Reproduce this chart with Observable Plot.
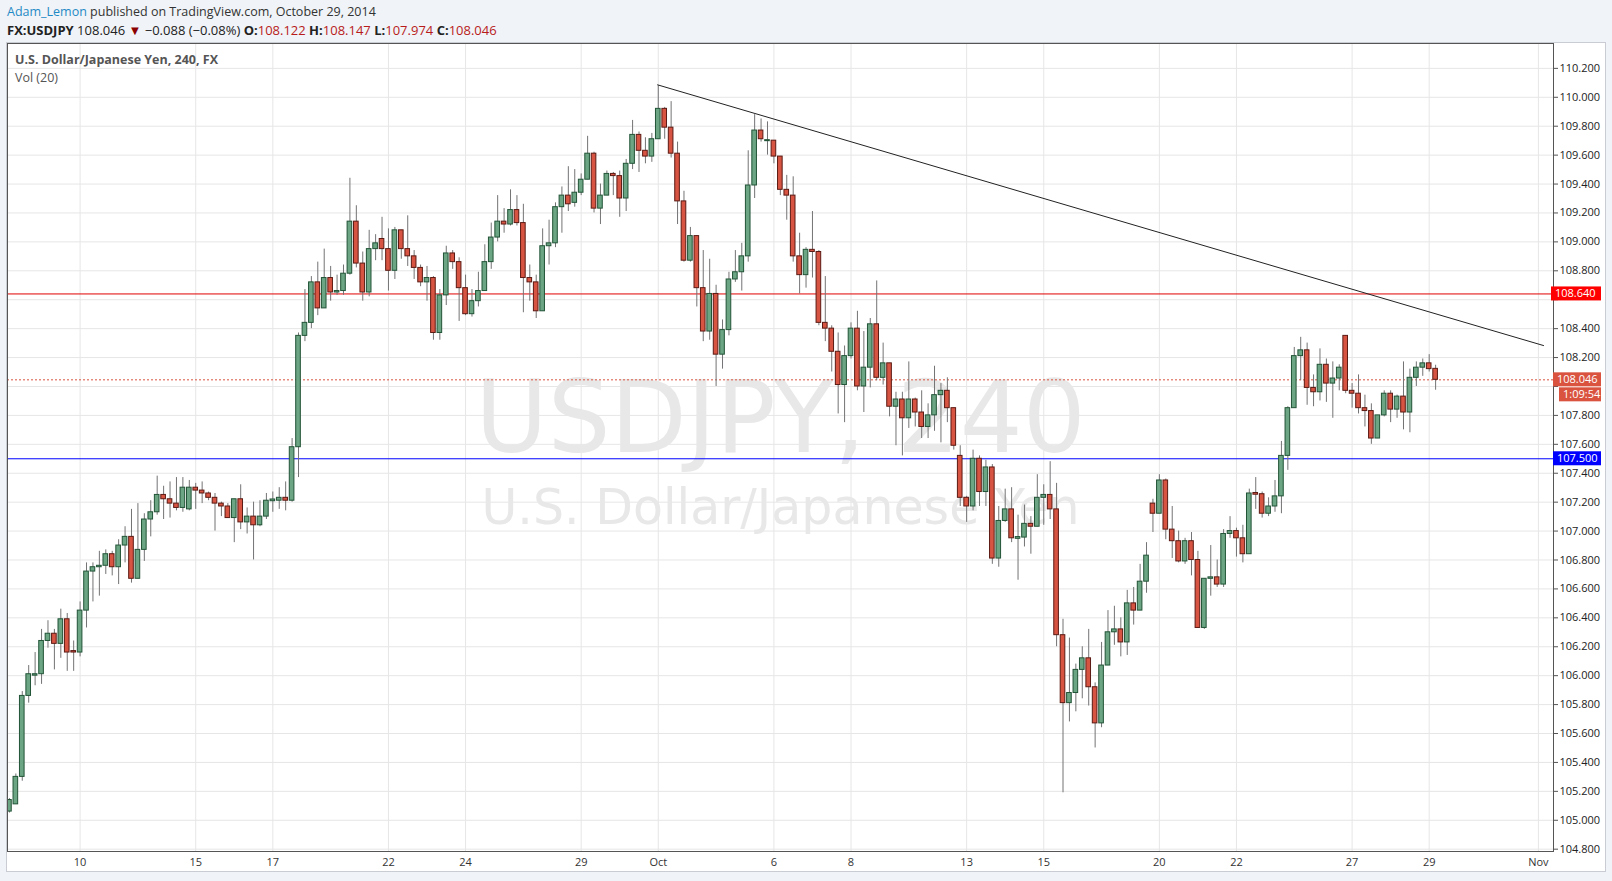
<!DOCTYPE html>
<html>
<head>
<meta charset="utf-8">
<script src="https://cdn.jsdelivr.net/npm/d3@7"></script>
<script src="https://cdn.jsdelivr.net/npm/@observablehq/plot@0.6"></script>
<style>
  html, body { margin: 0; padding: 0; width: 1612px; height: 881px; overflow: hidden; background: #f0f3f7; font-family: "Open Sans", sans-serif; }
  #hdr1 { position: absolute; left: 7px; top: 3px; font-size: 12.5px; color: #333; white-space: nowrap; }
  #hdr1 .user { color: #1f8ac6; }
  #hdr2 { position: absolute; left: 7px; top: 21px; font-size: 13px; color: #222; white-space: nowrap; }
  #hdr2 b { font-weight: 700; }
  #hdr2 .r { color: #b81b1b; }
  #hdr2 .arrow { color: #8b0000; }
  #box { position: absolute; left: 6px; top: 42px; width: 1600px; height: 830px; background: #fff; border: 1px solid #c9cdd3; box-sizing: border-box; }
  #chart { position: absolute; left: 0; top: 42px; }
  #legend1 { position: absolute; left: 15px; top: 51px; font-size: 12.5px; font-weight: 700; color: #555; white-space: nowrap; }
  #legend2 { position: absolute; left: 15px; top: 69px; font-size: 12.5px; color: #555; white-space: nowrap; }
</style>
</head>
<body>
<div id="hdr1"><span class="user">Adam_Lemon</span> published on TradingView.com, October 29, 2014</div>
<div id="hdr2"><b>FX:USDJPY</b> 108.046 <span class="arrow">▼</span> −0.088 (−0.08%) <b>O:</b><span class="r">108.122</span> <b>H:</b><span class="r">108.147</span> <b>L:</b><span class="r">107.974</span> <b>C:</b><span class="r">108.046</span></div>
<div id="box"></div>
<div id="chart"></div>
<div id="legend1">U.S. Dollar/Japanese Yen, 240, FX</div>
<div id="legend2">Vol (20)</div>
<script>
// ---- Data: 4-hour USDJPY candles [open, high, low, close], bar index starts at firstBar ----
const firstBar = 1;
const wkSep08 = [
  [105.06,105.15,105.05,105.14],[105.11,105.32,105.11,105.30],[105.30,105.89,105.27,105.86],[105.86,106.07,105.81,106.01],
  [106.00,106.16,105.93,106.01],[106.01,106.32,105.94,106.24],[106.24,106.38,106.19,106.29],[106.29,106.32,106.04,106.22],
  [106.22,106.46,106.12,106.39],[106.39,106.43,106.03,106.16],[106.17,106.24,106.03,106.16],[106.16,106.51,106.13,106.45],
  [106.45,106.78,106.33,106.72],[106.72,106.78,106.51,106.75],[106.75,106.86,106.55,106.76],[106.76,106.87,106.70,106.84],
  [106.84,106.86,106.69,106.75],[106.75,106.94,106.63,106.90],[106.90,107.03,106.78,106.96],[106.96,107.15,106.64,106.67],
  [106.67,107.19,106.67,106.87],[106.87,107.12,106.79,107.08],[107.08,107.21,106.96,107.13],[107.13,107.38,107.11,107.25],
  [107.25,107.31,107.08,107.22],[107.22,107.34,107.09,107.19],[107.19,107.37,107.14,107.16],[107.16,107.37,107.13,107.30],
  [107.15,107.35,107.14,107.30]
];
const wkSep15 = [
  [107.30,107.33,107.15,107.28],[107.28,107.34,107.19,107.26],[107.26,107.27,107.21,107.23],[107.23,107.26,107.00,107.19],
  [107.19,107.20,107.10,107.17],[107.17,107.19,107.09,107.09],[107.09,107.22,106.92,107.22],[107.22,107.32,107.01,107.06],
  [107.06,107.16,106.98,107.10],[107.10,107.20,106.80,107.04],[107.04,107.21,107.03,107.10],[107.10,107.26,107.08,107.21],
  [107.21,107.27,107.13,107.215],[107.21,107.30,107.15,107.23],[107.23,107.34,107.14,107.21],[107.21,107.64,107.20,107.58],
  [107.58,108.37,107.37,108.35],[108.35,108.67,108.31,108.44],[108.44,108.76,108.40,108.72],[108.72,108.86,108.49,108.54],
  [108.54,108.95,108.54,108.75],[108.75,108.83,108.59,108.65],[108.65,108.77,108.63,108.66],[108.66,108.84,108.63,108.78],
  [108.78,109.44,108.77,109.14],[109.14,109.25,108.82,108.85],[108.85,108.93,108.59,108.65],[108.65,109.08,108.62,108.95],
  [108.95,109.05,108.87,108.99],[109.02,109.17,108.87,108.95]
];
const wkSep22 = [
  [108.95,109.09,108.66,108.80],[108.80,109.10,108.74,109.08],[109.08,109.08,108.88,108.95],[108.95,109.18,108.83,108.90],
  [108.90,108.94,108.74,108.82],[108.82,108.84,108.69,108.72],[108.72,108.83,108.59,108.75],[108.75,108.76,108.32,108.37],
  [108.37,108.67,108.32,108.63],[108.63,108.97,108.56,108.92],[108.92,108.94,108.81,108.86],[108.86,108.89,108.45,108.68],
  [108.68,108.77,108.49,108.50],[108.50,108.67,108.48,108.59],[108.59,108.79,108.55,108.66],[108.66,108.98,108.66,108.86],
  [108.86,109.13,108.81,109.03],[109.03,109.32,109.00,109.14],[109.14,109.23,109.06,109.12],[109.12,109.36,109.11,109.22],
  [109.22,109.32,109.11,109.13],[109.13,109.26,108.51,108.75],[108.75,108.84,108.59,108.72],[108.72,108.77,108.47,108.52],
  [108.52,109.09,108.52,108.97],[108.97,109.15,108.84,108.99],[108.99,109.27,108.96,109.24],[109.24,109.38,109.06,109.32],
  [109.32,109.52,109.21,109.26],[109.27,109.50,109.24,109.34]
];
const wkSep29 = [
  [109.34,109.47,109.32,109.43],[109.43,109.73,109.43,109.61],[109.61,109.62,109.20,109.23],[109.23,109.40,109.12,109.32],
  [109.32,109.49,109.32,109.47],[109.47,109.48,109.32,109.455],[109.455,109.49,109.17,109.30],[109.30,109.57,109.21,109.54],
  [109.54,109.84,109.50,109.74],[109.74,109.76,109.48,109.63],[109.63,109.72,109.54,109.59],[109.59,109.75,109.55,109.71],
  [109.71,110.08,109.71,109.92],[109.92,109.93,109.71,109.79],[109.79,109.97,109.58,109.61],[109.61,109.69,109.12,109.28],
  [109.28,109.35,108.86,108.87],[108.87,109.10,108.86,109.04],[109.04,109.04,108.55,108.68],[108.68,108.94,108.31,108.38],
  [108.38,108.88,108.32,108.64],[108.64,108.70,108.00,108.22],[108.22,108.46,108.12,108.39],[108.39,108.79,108.35,108.74],
  [108.74,108.94,108.72,108.79],[108.79,108.99,108.66,108.90],[108.90,109.63,108.86,109.39],[109.39,109.88,109.30,109.77],
  [109.77,109.85,109.69,109.71],[109.70,109.83,109.60,109.70]
];
const wkOct06 = [
  [109.70,109.70,109.54,109.59],[109.59,109.59,109.32,109.36],[109.36,109.46,109.15,109.32],[109.32,109.45,108.86,108.90],
  [108.90,109.06,108.64,108.77],[108.77,108.96,108.68,108.945],[108.945,109.21,108.75,108.93],[108.93,108.94,108.42,108.44],
  [108.44,108.76,108.31,108.40],[108.40,108.42,108.10,108.24],[108.24,108.37,107.81,108.01],[108.01,108.28,107.75,108.21],
  [108.21,108.44,108.19,108.40],[108.40,108.52,107.97,108.00],[108.00,108.38,107.82,108.13],[108.13,108.47,107.99,108.43],
  [108.43,108.73,108.04,108.06],[108.06,108.30,108.01,108.16],[108.16,108.16,107.79,107.86],[107.86,107.96,107.59,107.91],
  [107.91,107.96,107.52,107.78],[107.78,108.17,107.71,107.91],[107.91,107.92,107.72,107.82],[107.82,107.97,107.64,107.72],
  [107.72,107.88,107.64,107.80],[107.80,108.14,107.69,107.94],[107.94,108.02,107.61,107.97],[107.97,108.06,107.75,107.85],
  [107.85,107.85,107.56,107.59],[107.52,107.59,107.17,107.23]
];
const wkOct13 = [
  [107.23,107.24,107.06,107.17],[107.17,107.56,107.14,107.50],[107.50,107.52,107.17,107.27],[107.27,107.49,107.17,107.44],
  [107.44,107.46,106.77,106.81],[106.81,107.17,106.75,107.07],[107.07,107.29,107.06,107.15],[107.15,107.30,106.92,106.95],
  [106.95,107.11,106.66,106.955],[106.955,107.18,106.89,107.05],[107.05,107.10,106.84,107.03],[107.03,107.39,107.03,107.23],
  [107.23,107.32,107.04,107.25],[107.25,107.48,107.08,107.15],[107.15,107.33,106.20,106.28],[106.28,106.39,105.19,105.81],
  [105.81,106.26,105.68,105.88],[105.88,106.08,105.75,106.04],[106.04,106.20,105.84,106.12],[106.12,106.32,105.79,105.92],
  [105.92,105.95,105.50,105.67],[105.67,106.23,105.64,106.07],[106.07,106.45,106.07,106.30],[106.30,106.48,106.21,106.32],
  [106.32,106.40,106.13,106.23],[106.23,106.59,106.14,106.50],[106.50,106.61,106.35,106.45],[106.45,106.77,106.45,106.65],
  [106.65,106.92,106.57,106.83],[107.19,107.22,106.99,107.12]
];
const wkOct20 = [
  [107.12,107.39,107.12,107.35],[107.35,107.36,106.94,107.01],[107.01,107.17,106.81,106.93],[106.93,107.00,106.78,106.79],
  [106.79,106.95,106.77,106.93],[106.93,106.99,106.69,106.80],[106.80,106.86,106.33,106.33],[106.33,106.67,106.32,106.67],
  [106.67,106.90,106.55,106.68],[106.68,106.80,106.61,106.63],[106.63,107.01,106.61,106.98],[106.98,107.10,106.95,107.00],
  [107.00,107.02,106.82,106.95],[106.95,107.04,106.78,106.84],[106.84,107.29,106.84,107.26],[107.26,107.37,107.15,107.255],
  [107.255,107.27,107.09,107.12],[107.12,107.23,107.10,107.17],[107.17,107.35,107.13,107.24],[107.24,107.62,107.12,107.52],
  [107.52,107.86,107.42,107.85],[107.85,108.27,107.85,108.21],[108.21,108.34,108.04,108.25],[108.25,108.30,107.87,107.99],
  [107.99,108.08,107.86,107.96],[107.96,108.26,107.90,108.15],[108.15,108.19,107.89,108.02],[108.02,108.17,107.78,108.055],
  [108.055,108.15,107.97,108.13],[108.35,108.35,107.95,107.97]
];
const wkOct27 = [
  [107.97,108.02,107.85,107.95],[107.95,108.08,107.81,107.85],[107.85,107.94,107.72,107.83],[107.83,107.88,107.60,107.64],
  [107.64,107.80,107.64,107.80],[107.80,107.97,107.79,107.95],[107.95,107.97,107.75,107.84],[107.84,107.94,107.78,107.93],
  [107.93,108.17,107.70,107.82],[107.82,108.12,107.68,108.06],[108.06,108.17,108.00,108.13],[108.13,108.19,108.07,108.16],
  [108.16,108.22,108.10,108.12],[108.122,108.147,107.974,108.046]
];

// time axis: bar index of each labelled day and its label
const dayTickIndex = [12, 30, 42, 60, 72, 90, 102, 120, 132, 150, 162, 180, 192, 210, 222, 239];
const dayTickLabel = ["10", "15", "17", "22", "24", "29", "Oct", "6", "8", "13", "15", "20", "22", "27", "29", "Nov"];

// price axis ticks
const priceTicks = [104.8, 105.0, 105.2, 105.4, 105.6, 105.8, 106.0, 106.2, 106.4, 106.6, 106.8, 107.0, 107.2,
  107.4, 107.6, 107.8, 108.0, 108.2, 108.4, 108.6, 108.8, 109.0, 109.2, 109.4, 109.6, 109.8, 110.0, 110.2];
const hiddenTicks = [108.0, 108.6];

// drawn levels
const resistanceLevel = 108.640;
const supportLevel = 107.500;
const lastPrice = 108.046;
const countdown = "1:09:54";
const trendLine = [{i: 101.9, p: 110.086}, {i: 239.8, p: 108.283}];
const watermark = ["USDJPY, 240", "U.S. Dollar/Japanese Yen"];

// ---- Build ----
const candles = [...wkSep08, ...wkSep15, ...wkSep22, ...wkSep29, ...wkOct06, ...wkOct13, ...wkOct20, ...wkOct27]
  .map((d, k) => ({i: k + firstBar, o: d[0], h: d[1], l: d[2], c: d[3]}));
const isUp = d => d.c >= d.o;
const minHalf = 0.0035;
const topOf = d => Math.max(d.o, d.c) + (Math.abs(d.o - d.c) < 2 * minHalf ? minHalf : 0);
const botOf = d => Math.min(d.o, d.c) - (Math.abs(d.o - d.c) < 2 * minHalf ? minHalf : 0);

const FONT = '"Open Sans", sans-serif';
const WM_FONT = '"DejaVu Sans", sans-serif';
const W = 1612, H = 839;

const plot = Plot.plot({
  width: W, height: H,
  marginLeft: 7, marginRight: 59, marginTop: 1, marginBottom: 30,
  style: {background: "transparent", fontFamily: FONT, fontSize: "11px", color: "#222", overflow: "visible"},
  x: {type: "linear", domain: [0.70, 241.35]},
  y: {domain: [104.784, 110.372]},
  color: {type: "identity"},
  marks: [
    Plot.gridX(dayTickIndex, {stroke: "#e6e6e6", strokeOpacity: 1}),
    Plot.gridY(priceTicks, {stroke: "#e6e6e6", strokeOpacity: 1}),
    Plot.text([watermark[0]], {frameAnchor: "middle", dy: -27, fontSize: 99, fill: "#e8e8e8", fontFamily: WM_FONT}),
    Plot.text([watermark[1]], {frameAnchor: "middle", dy: 61, fontSize: 49, fill: "#e8e8e8", fontFamily: WM_FONT}),
    Plot.ruleY([supportLevel], {stroke: "#0000ff", strokeWidth: 1}),
    Plot.ruleY([resistanceLevel], {stroke: "#e00000", strokeWidth: 1}),
    Plot.ruleY([lastPrice], {stroke: "#d9533f", strokeWidth: 1, strokeDasharray: "2,2"}),
    Plot.ruleX(candles, {x: "i", y1: "l", y2: "h", stroke: "#737375", strokeWidth: 1, clip: true}),
    Plot.rect(candles, {
      x1: d => d.i - 0.36, x2: d => d.i + 0.36, y1: botOf, y2: topOf,
      fill: d => isUp(d) ? "#6ba583" : "#d75442",
      stroke: d => isUp(d) ? "#225437" : "#5b1a13",
      strokeWidth: 1, clip: true
    }),
    Plot.line(trendLine, {x: "i", y: "p", stroke: "#222", strokeWidth: 1}),
    Plot.frame({stroke: "#555", strokeWidth: 1}),
    Plot.axisY(priceTicks, {
      anchor: "right", tickSize: 4, tickPadding: 2, stroke: "#555",
      tickFormat: d => hiddenTicks.some(h => Math.abs(h - d) < 1e-6) ? "" : d3.format(".3f")(d),
      fill: "#222", fontSize: 11, label: null
    }),
    Plot.axisX(dayTickIndex, {
      anchor: "bottom", tickSize: 0, tickPadding: 7,
      tickFormat: d => dayTickLabel[dayTickIndex.indexOf(d)],
      fill: "#333", fontSize: 11, label: null
    })
  ]
});
document.getElementById("chart").appendChild(plot);

// price-label boxes on the right axis, positioned through the plot's y scale
const ys = plot.scale("y");
const svg = d3.select(plot);
const axisX = W - 59;
function tag(value, text, bg, dyPx, dxPx, w) {
  const y = ys.apply(value) + (dyPx || 0);
  const x = axisX + (dxPx || 0);
  const g = svg.append("g");
  g.append("rect").attr("x", x).attr("y", y - 7).attr("width", w || 48).attr("height", 14).attr("fill", bg);
  g.append("text").attr("x", x + 4).attr("y", y).attr("dy", "0.35em").attr("text-anchor", "start")
    .attr("fill", "#fff").attr("font-size", 11).attr("font-family", FONT).text(text);
}
tag(resistanceLevel, d3.format(".3f")(resistanceLevel), "#ff0000", 0, -2, 50);
tag(lastPrice, d3.format(".3f")(lastPrice), "#d9533f", 0, 0, 48);
tag(lastPrice, countdown, "#d9533f", 15, 6, 42);
tag(supportLevel, d3.format(".3f")(supportLevel), "#0000ff", 0, 0, 48);
</script>
</body>
</html>
